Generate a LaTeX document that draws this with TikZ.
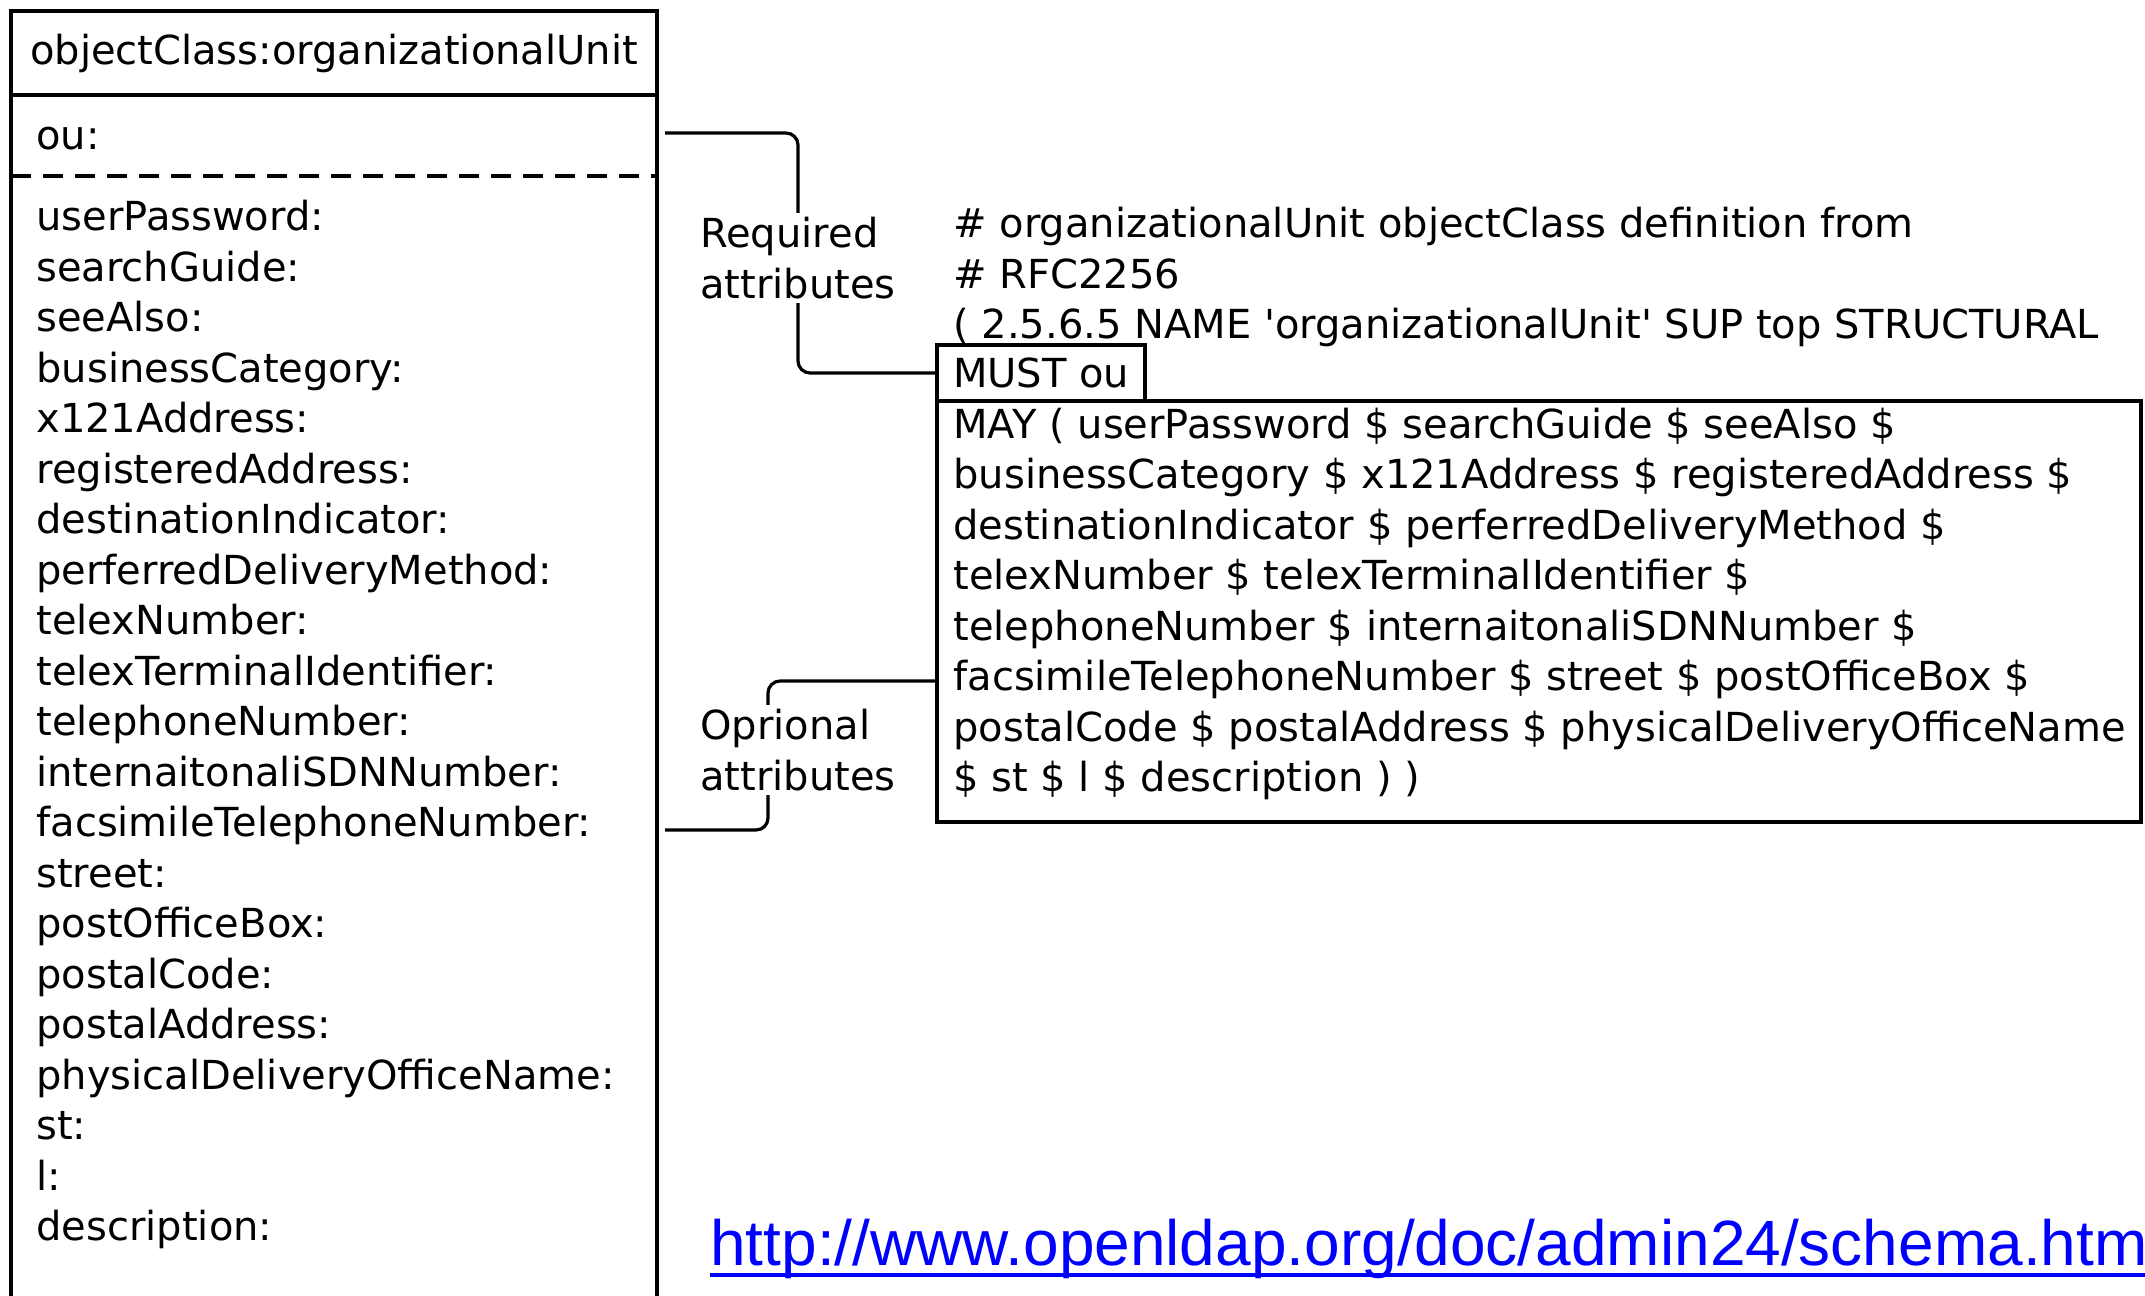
\documentclass[tikz,border=0pt]{standalone}
\usepackage{fontspec}
\setmainfont{DejaVu Sans}
\newfontfamily\linkfont{Liberation Sans}
\usetikzlibrary{positioning,calc}
\definecolor{linkblue}{RGB}{0,0,255}
\newcommand{\schemafont}{\fontsize{20}{25.25}\selectfont}

\begin{document}
\begin{tikzpicture}[x=0.5pt, y=-0.5pt, every node/.style={font=\schemafont}]
\tikzstyle{boxed}=[rectangle, draw, line width=2pt, outer sep=0pt]
\tikzstyle{txt}=[inner sep=0pt, align=left]
\tikzstyle{lbl}=[inner sep=2pt, align=left]
\tikzstyle{link}=[line width=1.6pt, rounded corners=6pt]

\clip (0,0) rectangle (2145,1295);

% Class box on the left (runs off the bottom)
\node[boxed, minimum width=323pt, minimum height=42pt] (title) at (334,53) {objectClass:organizationalUnit};
\node[boxed, minimum width=323pt, minimum height=700pt, below=0pt of title] (body) {};
\draw[line width=2pt, dash pattern=on 10pt off 6pt] ([yshift=-40.5pt]body.north west) -- ([yshift=-40.5pt]body.north east);

\node[txt, anchor=base west] (ou) at (36,149) {ou:};
\node[txt, anchor=north west] (attrs) at (36,200) {userPassword:\\searchGuide:\\seeAlso:\\businessCategory:\\x121Address:\\registeredAddress:\\destinationIndicator:\\perferredDeliveryMethod:\\telexNumber:\\telexTerminalIdentifier:\\telephoneNumber:\\internaitonaliSDNNumber:\\facsimileTelephoneNumber:\\street:\\postOfficeBox:\\postalCode:\\postalAddress:\\physicalDeliveryOfficeName:\\st:\\l:\\description:};

% Schema definition on the right
\node[txt, anchor=north west] (defn) at (953,207) {\# organizationalUnit objectClass definition from\\\# RFC2256\\( 2.5.6.5 NAME \textquotesingle organizationalUnit\textquotesingle{} SUP top STRUCTURAL};
\node[boxed, anchor=north west, minimum height=28pt, inner xsep=8pt] (must) at (937,345) {MUST ou};
\node[boxed, anchor=north west, minimum width=602pt, minimum height=210.5pt] (may) at (must.south west) {};
\node[txt, anchor=north west] (maytxt) at ([shift={(8pt,-3.3pt)}]may.north west) {MAY ( userPassword \$ searchGuide \$ seeAlso \$\\businessCategory \$ x121Address \$ registeredAddress \$\\destinationIndicator \$ perferredDeliveryMethod \$\\telexNumber \$ telexTerminalIdentifier \$\\telephoneNumber \$ internaitonaliSDNNumber \$\\facsimileTelephoneNumber \$ street \$ postOfficeBox \$\\postalCode \$ postalAddress \$ physicalDeliveryOfficeName\\\$ st \$ l \$ description ) )};

% Labels between the two
\node[lbl] (reqlbl) at (798,258) {Required\\attributes};
\node[lbl] (optlbl) at (798,750) {Oprional\\attributes};

\coordinate (ouend) at (665,133);
\coordinate (optout) at (665,830);
\coordinate (optin) at ([yshift=-34.75pt]may.west);

\draw[link] (ouend) -| (reqlbl.north);
\draw[link] (reqlbl.south) |- (must.west);
\draw[link] (optin) -| ([xshift=-15pt]optlbl.north);
\draw[link] ([xshift=-15pt]optlbl.south) |- (optout);

% Source link
\node[txt, anchor=base west, font=\linkfont\fontsize{32}{36}\selectfont, text=linkblue] (url) at (710,1265) {http://www.openldap.org/doc/admin24/schema.htm};
\draw[linkblue, line width=2pt] ([yshift=-5pt]url.base west) -- ([yshift=-5pt]url.base east);
\end{tikzpicture}
\end{document}
